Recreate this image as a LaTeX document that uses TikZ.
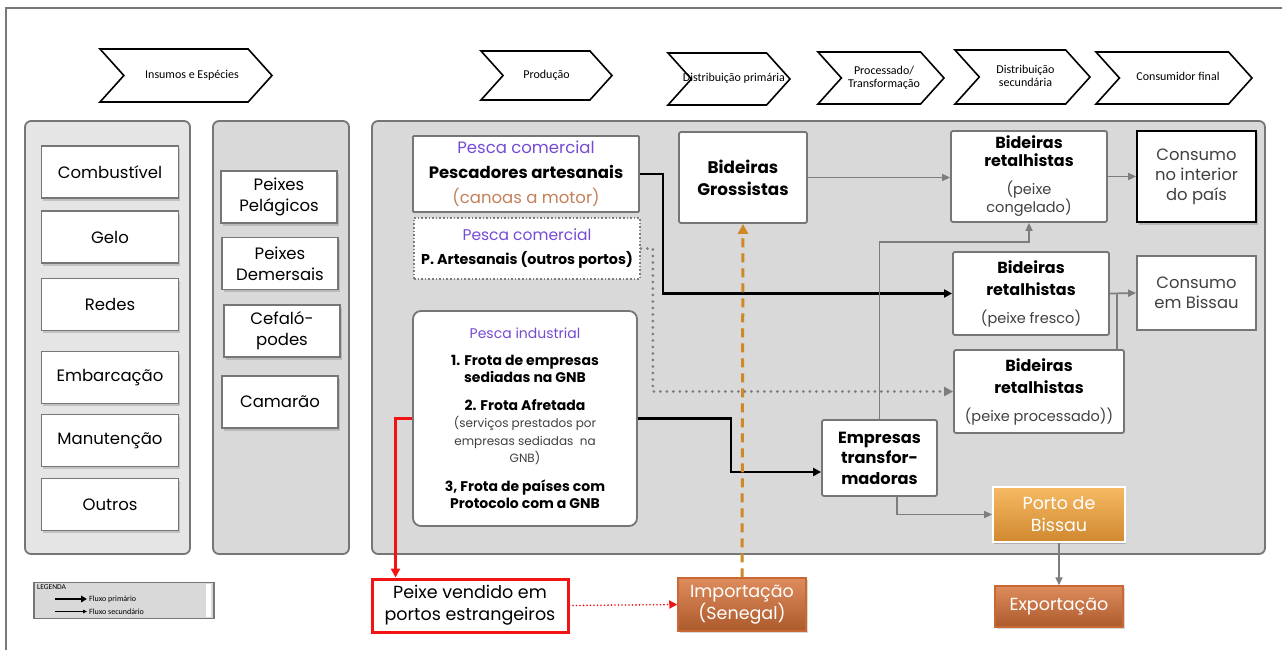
\documentclass[tikz,border=0pt]{standalone}
\usepackage{fontspec}
\setmainfont{Poppins}
\newfontfamily\chevfont{Carlito}
\usetikzlibrary{shapes.symbols,shadows,arrows.meta}

\definecolor{panelA}{RGB}{229,229,229}
\definecolor{panelB}{RGB}{217,217,217}
\definecolor{edge}{RGB}{118,118,118}
\definecolor{framegray}{RGB}{120,120,120}
\definecolor{purp}{RGB}{117,76,212}
\definecolor{canoa}{RGB}{196,128,88}
\definecolor{txtgray}{RGB}{64,64,64}
\definecolor{orangeflow}{RGB}{206,136,38}
\definecolor{flowgray}{RGB}{125,125,125}
\definecolor{portotop}{RGB}{246,186,100}
\definecolor{portobot}{RGB}{208,136,46}
\definecolor{exptop}{RGB}{222,140,92}
\definecolor{expbot}{RGB}{172,90,44}
\definecolor{expedge}{RGB}{200,104,52}
\definecolor{redline}{RGB}{240,20,20}

% chevron captions take no width, so the arrow outline keeps its own size
\newcommand{\chevtext}[1]{\makebox[0pt]{\renewcommand{\arraystretch}{0.95}\begin{tabular}{@{}c@{}}#1\end{tabular}}}
% bold heading used in the retailer boxes
\newcommand{\retfont}{\bfseries\fontsize{16}{22}\selectfont}

\begin{document}
\begin{tikzpicture}[x=1pt,y=-1pt,
  panel/.style={draw=edge, line width=1.8pt, rounded corners=6pt, inner sep=0pt},
  item/.style={draw=edge, line width=1.8pt, fill=white, align=center, inner sep=0pt,
    drop shadow={shadow xshift=1.5pt, shadow yshift=-2.5pt, opacity=0.35},
    font=\fontsize{16.5}{21}\selectfont},
  chev/.style={shape=signal, signal to=east, signal from=west, signal pointer angle=96,
    draw=black, line width=1.6pt, fill=white, inner sep=0pt,
    font=\chevfont\fontsize{12}{14}\selectfont},
  card/.style={draw=edge, line width=1.8pt, fill=white, align=center, inner sep=0pt, rounded corners=2pt},
  brownbox/.style={draw=expedge, line width=1.5pt, top color=exptop, bottom color=expbot,
    text=white, align=center, inner sep=0pt,
    drop shadow={shadow xshift=1.5pt, shadow yshift=-2pt, opacity=0.3},
    font=\fontsize{17.5}{22}\selectfont},
  primary/.style={draw=black, line width=2.8pt, -{Triangle[length=8pt,width=8pt]}},
  secondary/.style={draw=flowgray, line width=1.7pt, -{Triangle[length=8pt,width=7pt]}},
  joinline/.style={draw=flowgray, line width=1.7pt},
  bt/.style={font=\bfseries\fontsize{16.8}{22}\selectfont},
]
\useasboundingbox (0,0) rectangle (1282,650);
\fill[white] (0,0) rectangle (1282,650);

% outer frame
\draw[framegray, line width=1.8pt] (6,660) -- (6,8) -- (1290,8);

% stage chevrons
\node[chev, minimum width=172pt, minimum height=53pt] (ch1) at (186,75.5) {\chevtext{\hspace*{12pt}Insumos e Espécies}};
\node[chev, minimum width=131pt, minimum height=49pt] (ch2) at (546.5,75.5) {\chevtext{Produção}};
\node[chev, minimum width=122pt, minimum height=52pt] (ch3) at (729,79) {\chevtext{\hspace*{10pt}Distribuição primária}};
\node[chev, minimum width=126pt, minimum height=52pt] (ch4) at (881,78) {\chevtext{\hspace*{6pt}Processado/\\\hspace*{6pt}Transformação}};
\node[chev, minimum width=135pt, minimum height=54pt] (ch5) at (1022.5,77) {\chevtext{\hspace*{6pt}Distribuição\\\hspace*{6pt}secundária}};
\node[chev, minimum width=156pt, minimum height=52pt] (ch6) at (1174,78) {\chevtext{\hspace*{8pt}Consumidor final}};

% background panels
\node[panel, fill=panelA, minimum width=165pt, minimum height=433pt] (pA) at (107.5,337.5) {};
\node[panel, fill=panelB, minimum width=136pt, minimum height=433pt] (pB) at (281,337.5) {};
\node[panel, fill=panelB, minimum width=893pt, minimum height=433pt] (pC) at (818.5,337.5) {};

% inputs
\node[item, minimum width=137pt, minimum height=52pt] (comb) at (110,172) {Combustível};
\node[item, minimum width=137pt, minimum height=52pt] (gelo) at (110,237) {Gelo};
\node[item, minimum width=137pt, minimum height=52pt] (redes) at (110,304.5) {Redes};
\node[item, minimum width=137pt, minimum height=52pt] (emb) at (110,377.5) {Embarcação};
\node[item, minimum width=137pt, minimum height=52pt] (man) at (110,440.5) {Manutenção};
\node[item, minimum width=137pt, minimum height=52pt] (outros) at (110,504.5) {Outros};

% species
\node[item, minimum width=116pt, minimum height=52pt] (pel) at (279,197) {Peixes\\Pelágicos};
\node[item, minimum width=116pt, minimum height=52pt] (dem) at (280,263.5) {Peixes\\Demersais};
\node[item, minimum width=116pt, minimum height=52pt] (cef) at (282,331) {Cefaló-\\podes};
\node[item, minimum width=116pt, minimum height=52pt] (cam) at (280,402) {Camarão};

% production
\node[card, rounded corners=1pt, minimum width=226pt, minimum height=76pt,
  font=\fontsize{16.5}{25}\selectfont] (pca) at (526,174)
  {{\color{purp}Pesca comercial}\\{\bfseries\fontsize{16.5}{25}\selectfont Pescadores artesanais}\\{\color{canoa}(canoas a motor)}};
\node[draw=flowgray, dotted, line width=1.6pt, fill=white, align=center, inner sep=0pt,
  minimum width=226pt, minimum height=61pt, font=\fontsize{15.5}{24}\selectfont] (pcb) at (527,248.5)
  {{\color{purp}Pesca comercial}\\{\bfseries\fontsize{14.3}{24}\selectfont P. Artesanais (outros portos)}};
\node[card, rounded corners=8pt, minimum width=224pt, minimum height=215pt,
  font=\fontsize{14}{17.5}\selectfont] (pind) at (525,418.5)
  {{\color{purp}\fontsize{14}{17}\selectfont Pesca industrial}\\[9pt]
   {\bfseries 1. Frota de empresas}\\{\bfseries sediadas na GNB}\\[10pt]
   {\bfseries 2. Frota Afretada}\\{\color{txtgray}\fontsize{12}{17}\selectfont (serviços prestados por}\\{\color{txtgray}\fontsize{12}{17}\selectfont empresas sediadas\ \ na}\\{\color{txtgray}\fontsize{12}{17}\selectfont GNB)}\\[11pt]
   {\bfseries 3, Frota de países com}\\{\bfseries Protocolo com a GNB}};

% distribution
\node[card, minimum width=128pt, minimum height=91pt, bt] (gros) at (743,177.5) {Bideiras\\Grossistas};
\node[card, minimum width=156pt, minimum height=91pt, font=\fontsize{14.5}{18}\selectfont] (retc) at (1029,176.5)
  {{\retfont Bideiras}\\{\retfont retalhistas}\\[10pt]
   {\color{txtgray}(peixe}\\{\color{txtgray}congelado)}};
\node[card, minimum width=156pt, minimum height=83pt, font=\fontsize{14.5}{22}\selectfont] (retf) at (1031,293.5)
  {{\retfont Bideiras}\\{\retfont retalhistas}\\[6pt]
   {\color{txtgray}(peixe fresco)}};
\node[card, minimum width=170pt, minimum height=83pt, font=\fontsize{14.5}{22}\selectfont] (retp) at (1039,391.5)
  {{\retfont Bideiras}\\{\retfont retalhistas}\\[6pt]
   {\color{txtgray}(peixe processado))}};
\node[card, minimum width=115pt, minimum height=76pt, font=\bfseries\fontsize{16.2}{20.5}\selectfont] (emp) at (879.5,458)
  {Empresas\\transfor-\\madoras};

% consumption
\node[draw=black, line width=1.8pt, fill=white, align=center, inner sep=0pt, text=txtgray,
  minimum width=119pt, minimum height=91pt, font=\fontsize{16.4}{20}\selectfont,
  drop shadow={shadow xshift=2pt, shadow yshift=-2.5pt, opacity=0.4}] (cint) at (1196.5,176.5)
  {Consumo\\no interior\\do país};
\node[draw=edge, line width=1.8pt, fill=white, align=center, inner sep=0pt, text=txtgray,
  minimum width=119pt, minimum height=74pt, font=\fontsize{16.4}{20}\selectfont] (cbis) at (1196.5,293)
  {Consumo\\em Bissau};

% port and trade
\node[draw=white, line width=1.8pt, top color=portotop, bottom color=portobot, text=white,
  align=center, inner sep=0pt, minimum width=132pt, minimum height=55pt,
  font=\fontsize{17.5}{22}\selectfont,
  drop shadow={shadow xshift=1pt, shadow yshift=-1.5pt, opacity=0.45}] (porto) at (1059,514.5)
  {Porto de\\Bissau};
\node[brownbox, minimum width=128pt, minimum height=41pt] (exp) at (1059,606.5) {Exportação};
\node[brownbox, minimum width=128pt, minimum height=53pt] (imp) at (742,604.5) {Importação\\(Senegal)};
\node[draw=redline, line width=3pt, fill=white, align=center, inner sep=0pt,
  minimum width=196pt, minimum height=53pt, font=\fontsize{17.5}{22}\selectfont] (pve) at (470,605.5)
  {Peixe vendido em\\portos estrangeiros};

% legend
\node[draw=edge, line width=1.2pt, fill=panelB, inner sep=0pt, minimum width=180pt, minimum height=36pt] (leg) at (124,600.5) {};
\fill[white] (206,584) rectangle (211,617);
\node[anchor=north west, inner sep=0pt, font=\chevfont\fontsize{7.5}{9}\selectfont] (legt) at (37,584) {LEGENDA};
\node[anchor=west, inner sep=0pt, font=\chevfont\fontsize{8}{9}\selectfont] (leg1) at (89,599) {Fluxo primário};
\node[anchor=west, inner sep=0pt, font=\chevfont\fontsize{8}{9}\selectfont] (leg2) at (89,611.5) {Fluxo secundário};
\draw[line width=2pt, -{Triangle[length=6pt,width=6.5pt]}] ([xshift=-34pt]leg1.west) -- ([xshift=-2pt]leg1.west);
\draw[line width=0.8pt, -{Triangle[length=4pt,width=3.5pt]}] ([xshift=-34pt]leg2.west) -- ([xshift=-2pt]leg2.west);

% flows
\draw[primary] (pca.east) -- ++(23,0) |- (retf.west);
\draw[primary] (pind.east) -- ++(93,0) |- ([yshift=-14pt]emp.west);
\draw[secondary] (gros.east) -- (gros.east -| retc.west);
\draw[secondary] (retc.east) -- (cint.west);
\draw[secondary] (retf.east) -- (cbis.west);
\draw[joinline] ([xshift=-8pt]retp.north east) -- ([xshift=-8pt]retp.north east |- retf.east);
\draw[secondary] (emp.north) -- ++(0,-177) -| (retc.south);
\draw[draw=flowgray, line width=3pt, dash pattern=on 0pt off 6.5pt, line cap=round,
  -{Triangle[length=9pt,width=9pt]}] (pcb.east) -- ++(12,0) |- (retp.west);
\draw[secondary] ([xshift=17.5pt]emp.south) |- (porto.west);
\draw[secondary] (porto.south) -- (exp.north);
\draw[draw=orangeflow, line width=3pt, dash pattern=on 9pt off 6pt,
  -{Triangle[length=10pt,width=10pt]}] (imp.north) -- (gros.south);
\draw[draw=redline, line width=3pt, -{Triangle[length=9pt,width=9pt]}] (pind.west) -| ([xshift=25pt]pve.north west);
\draw[draw=redline, line width=1.8pt, dash pattern=on 0pt off 3.5pt, line cap=round,
  -{Triangle[length=8pt,width=8pt]}] (pve.east) -- (imp.west);
\end{tikzpicture}
\end{document}
